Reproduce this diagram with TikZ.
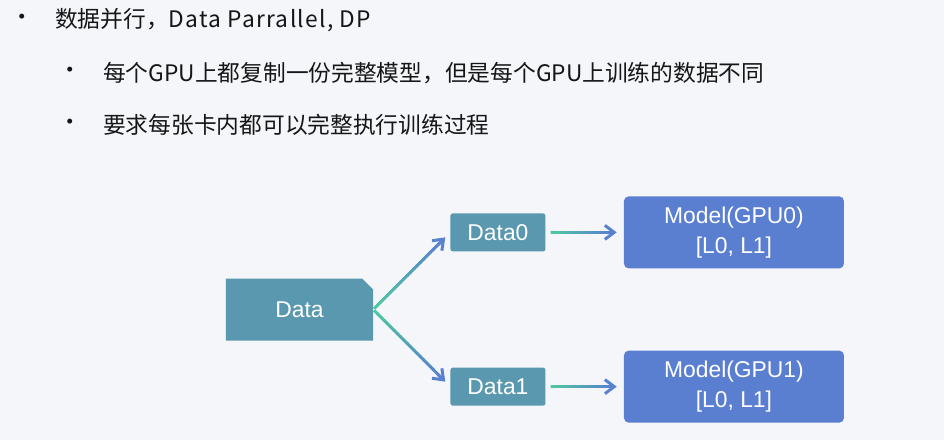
\documentclass[tikz,border=0pt]{standalone}
\usepackage{fontspec}
\setmainfont{Liberation Sans}
\newfontfamily\cjk{Noto Sans CJK SC}
\usetikzlibrary{positioning, calc, arrows.meta, shapes.misc}
\definecolor{bgGray}{RGB}{245,246,250}
\definecolor{dataTeal}{RGB}{89,152,175}
\definecolor{modelBlue}{RGB}{90,126,208}
\definecolor{lnGreen}{RGB}{78,200,160}
\definecolor{lnBlue}{RGB}{88,130,206}
\definecolor{txtDark}{RGB}{22,22,22}

% colour ramp from green to blue, drawn as short pieces
\newcommand\gradline[2]{%
  \foreach \k in {0,...,19}{%
    \pgfmathsetmacro\mixv{100-\k*100/19}
    \pgfmathsetmacro\ta{\k*0.046}
    \pgfmathsetmacro\tb{(\k+1.2)*0.046}
    \draw[flow, draw=lnGreen!\mixv!lnBlue] ($(#1)!\ta!(#2)$) -- ($(#1)!\tb!(#2)$);
  }
  \draw[flow, draw=lnBlue, -{Straight Barb[length=0.28cm, width=0.42cm]}] ($(#1)!0.9!(#2)$) -- (#2);
}

\begin{document}
\begin{tikzpicture}[x=0.03cm, y=-0.03cm,
    lead/.style={anchor=west, inner sep=0pt, text=txtDark, font=\cjk\fontsize{19.4}{24}\selectfont},
    dot/.style={inner sep=0pt, text=txtDark, font=\cjk\fontsize{20}{24}\selectfont},
    databox/.style={fill=dataTeal, text=white, rounded corners=2pt, minimum width=2.85cm, minimum height=1.14cm, inner sep=0pt, font=\fontsize{19.5}{24}\selectfont},
    modelbox/.style={fill=modelBlue, text=white, rounded corners=4pt, minimum width=6.6cm, minimum height=2.16cm, inner sep=0pt, align=center, font=\fontsize{19.5}{26}\selectfont},
    flow/.style={line width=0.09cm, line cap=butt}]

    \useasboundingbox[fill=bgGray] (0,0) rectangle (944,440);

    % bullet text
    \node[dot] (b1) at (22,20) {•};
    \node[lead] (t1) at (55,20) {数据并行，{\addfontfeature{LetterSpace=5.5}Data Parrallel, DP}};
    \node[dot] (b2) at (70,73) {•};
    \node[lead] (t2) at (103,73) {每个GPU上都复制一份完整模型，但是每个GPU上训练的数据不同};
    \node[dot] (b3) at (70,125) {•};
    \node[lead] (t3) at (103,125) {要求每张卡内都可以完整执行训练过程};

    % data split
    \node[chamfered rectangle, chamfered rectangle corners=north east, chamfered rectangle xsep=0.2cm,
          fill=dataTeal, text=white, minimum width=4.41cm, minimum height=1.86cm, inner sep=0pt,
          font=\fontsize{19.5}{24}\selectfont] (data) at (299.5,309.5) {Data};
    \coordinate (dtop) at (data.north -| data.east);
    \coordinate (dbot) at (data.south -| data.east);
    \node[databox, above right=0.8cm and 2.31cm of dtop] (data0) {Data0};
    \node[databox, below right=0.8cm and 2.31cm of dbot] (data1) {Data1};

    \node[modelbox, right=2.34cm of data0] (gpu0) {Model(GPU0)\\{}[L0, L1]};
    \node[modelbox, right=2.34cm of data1] (gpu1) {Model(GPU1)\\{}[L0, L1]};

    % connectors
    \coordinate (s0) at ($(data.east)!1pt!(data0.west)$);
    \coordinate (e0) at ($(data0.west)!6pt!(data.east)$);
    \coordinate (s1) at ($(data.east)!1pt!(data1.west)$);
    \coordinate (e1) at ($(data1.west)!6pt!(data.east)$);
    \gradline{s0}{e0}
    \gradline{s1}{e1}

    \coordinate (m0s) at ($(data0.east)+(5,0)$);
    \coordinate (m0e) at ($(gpu0.west |- data0.east)+(-7,0)$);
    \coordinate (m1s) at ($(data1.east)+(5,0)$);
    \coordinate (m1e) at ($(gpu1.west |- data1.east)+(-7,0)$);
    \gradline{m0s}{m0e}
    \gradline{m1s}{m1e}

\end{tikzpicture}
\end{document}
